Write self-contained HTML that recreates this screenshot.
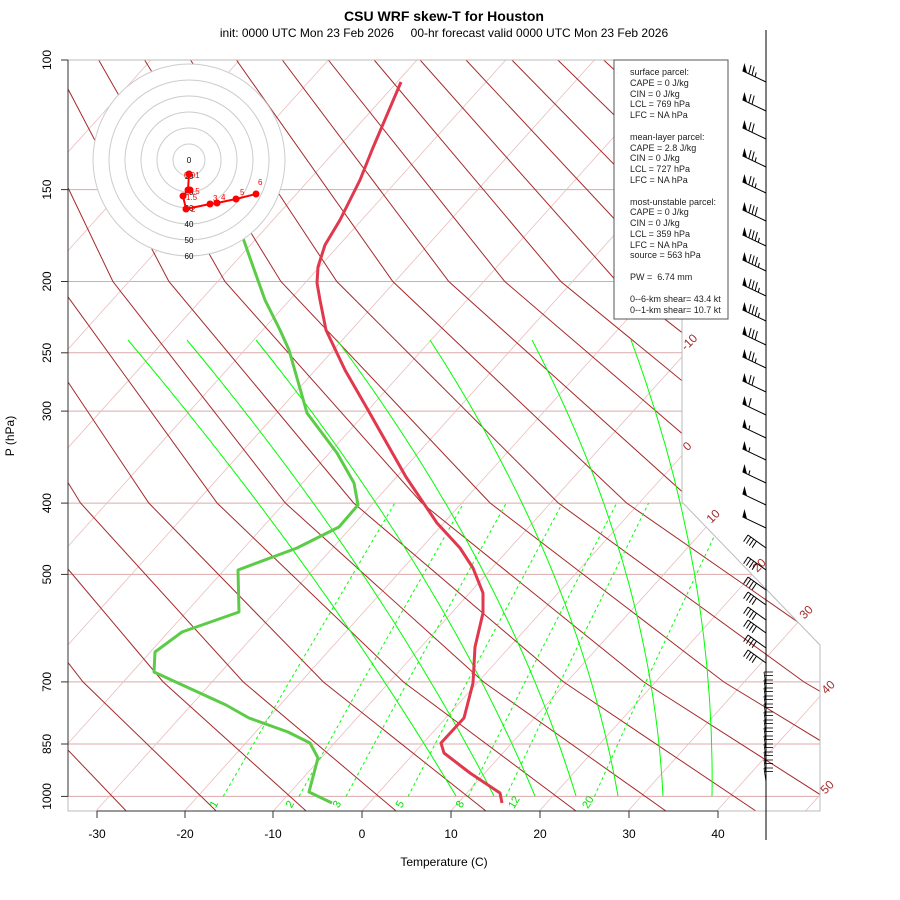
<!DOCTYPE html>
<html><head><meta charset="utf-8">
<style>
html,body{margin:0;padding:0;background:#fff;}
svg{display:block;font-family:"Liberation Sans",sans-serif;}
</style></head>
<body>
<svg width="900" height="900" viewBox="0 0 900 900" xmlns="http://www.w3.org/2000/svg" xmlns:xlink="http://www.w3.org/1999/xlink">
<defs>
<clipPath id="cp"><polygon points="68,60 682,60 682,502 820,645 820,811 68,811"/></clipPath>
<g id="bF"><line x1="0" y1="0" x2="-23.5" y2="-11.2"/><polygon points="-23.5,-11.2 -19,-9 -21.5,-19" stroke="none"/></g>
<g id="bF1"><use href="#bF"/><line x1="-17.2" y1="-8.2" x2="-14.9" y2="-16.9"/></g>
<g id="bF2"><use href="#bF1"/><line x1="-14" y1="-6.7" x2="-11.8" y2="-15.4"/></g>
<g id="bF3"><use href="#bF2"/><line x1="-10.9" y1="-5.2" x2="-8.6" y2="-13.9"/></g>
<g id="bFh"><use href="#bF"/><line x1="-17.2" y1="-8.2" x2="-16.1" y2="-12.6"/></g>
<g id="bF1h"><use href="#bF1"/><line x1="-14" y1="-6.7" x2="-12.9" y2="-11.1"/></g>
<g id="bF2h"><use href="#bF2"/><line x1="-10.9" y1="-5.2" x2="-9.8" y2="-9.6"/></g>
<g id="bF3h"><use href="#bF3"/><line x1="-7.7" y1="-3.7" x2="-6.6" y2="-8.1"/></g>
<g id="bL"><line x1="0" y1="0" x2="-18" y2="-13"/><line x1="-18" y1="-13" x2="-22.4" y2="-6.4"/><line x1="-15.2" y1="-11" x2="-19.6" y2="-4.4"/><line x1="-12.3" y1="-8.9" x2="-16.7" y2="-2.3"/><line x1="-9.5" y1="-6.9" x2="-13.9" y2="-0.3"/></g>
<g id="bS"><line x1="0" y1="0" x2="-2" y2="-14"/><line x1="-2" y1="-14" x2="7" y2="-14"/><line x1="-1.5" y1="-10.5" x2="7" y2="-10.5"/></g>
</defs>
<rect width="900" height="900" fill="#fff"/>
<g clip-path="url(#cp)">
<g stroke="#dcaaaa" stroke-width="1">
<line x1="68" y1="60" x2="830" y2="60"/><line x1="68" y1="189.6" x2="830" y2="189.6"/>
<line x1="68" y1="281.5" x2="830" y2="281.5"/><line x1="68" y1="352.8" x2="830" y2="352.8"/>
<line x1="68" y1="411.1" x2="830" y2="411.1"/><line x1="68" y1="503.1" x2="830" y2="503.1"/>
<line x1="68" y1="574.4" x2="830" y2="574.4"/><line x1="68" y1="681.9" x2="830" y2="681.9"/>
<line x1="68" y1="744" x2="830" y2="744"/><line x1="68" y1="796.4" x2="830" y2="796.4"/>
</g>
<g stroke="#ebbcbc" stroke-width="0.8">
<line x1="-968.5" y1="811" x2="-292.6" y2="60"/><line x1="-879.8" y1="811" x2="-203.9" y2="60"/>
<line x1="-791.1" y1="811" x2="-115.2" y2="60"/><line x1="-702.4" y1="811" x2="-26.5" y2="60"/>
<line x1="-613.7" y1="811" x2="62.2" y2="60"/><line x1="-525" y1="811" x2="150.9" y2="60"/>
<line x1="-436.3" y1="811" x2="239.6" y2="60"/><line x1="-347.6" y1="811" x2="328.3" y2="60"/>
<line x1="-258.9" y1="811" x2="417" y2="60"/><line x1="-170.2" y1="811" x2="505.7" y2="60"/>
<line x1="-81.5" y1="811" x2="594.4" y2="60"/><line x1="7.2" y1="811" x2="683.1" y2="60"/>
<line x1="95.9" y1="811" x2="771.8" y2="60"/><line x1="184.6" y1="811" x2="860.5" y2="60"/>
<line x1="273.3" y1="811" x2="949.2" y2="60"/><line x1="362" y1="811" x2="1037.9" y2="60"/>
<line x1="450.7" y1="811" x2="1126.6" y2="60"/><line x1="539.4" y1="811" x2="1215.3" y2="60"/>
<line x1="628.1" y1="811" x2="1304" y2="60"/><line x1="716.8" y1="811" x2="1392.7" y2="60"/>
<line x1="805.5" y1="811" x2="1481.4" y2="60"/>
</g>
<g stroke="#a52a2a" stroke-width="1" fill="none">
<polyline points="126.2,811 3,682 -124.2,503 -223,281.5 -268.6,60"/>
<polyline points="216.2,811 83.1,682 -56,503 -167,281.5 -222.7,60"/>
<polyline points="306.1,811 163.2,682 12.3,503 -111.1,281.5 -176.8,60"/>
<polyline points="396.1,811 243.3,682 80.5,503 -55.1,281.5 -130.9,60"/>
<polyline points="486,811 323.4,682 148.8,503 0.9,281.5 -85,60"/>
<polyline points="576,811 403.5,682 217.1,503 56.9,281.5 -39,60"/>
<polyline points="665.9,811 483.6,682 285.3,503 112.9,281.5 6.9,60"/>
<polyline points="755.9,811 563.7,682 353.6,503 168.9,281.5 52.8,60"/>
<polyline points="845.8,811 643.8,682 421.8,503 224.9,281.5 98.7,60"/>
<polyline points="935.8,811 723.9,682 490.1,503 280.9,281.5 144.6,60"/>
<polyline points="1025.7,811 804,682 558.3,503 336.8,281.5 190.5,60"/>
<polyline points="1115.7,811 884.1,682 626.6,503 392.8,281.5 236.4,60"/>
<polyline points="1205.6,811 964.2,682 694.8,503 448.8,281.5 282.3,60"/>
<polyline points="1295.6,811 1044.3,682 763.1,503 504.8,281.5 328.3,60"/>
<polyline points="1385.5,811 1124.4,682 831.3,503 560.8,281.5 374.2,60"/>
<polyline points="1475.5,811 1204.5,682 899.6,503 616.8,281.5 420.1,60"/>
<polyline points="1565.4,811 1284.6,682 967.9,503 672.8,281.5 466,60"/>
<polyline points="1655.4,811 1364.7,682 1036.1,503 728.7,281.5 511.9,60"/>
<polyline points="1745.3,811 1444.8,682 1104.3,503 784.7,281.5 557.8,60"/>
<polyline points="1835.3,811 1524.9,682 1172.6,503 840.7,281.5 603.7,60"/>
<polyline points="1925.2,811 1605,682 1240.8,503 896.7,281.5 649.6,60"/>
<polyline points="2015.2,811 1685.1,682 1309.1,503 952.6,281.5 695.6,60"/>
</g>
<g stroke="#00ff00" stroke-width="1" fill="none" stroke-dasharray="3,3">
<polyline points="223.2,796.4 289.3,681.9 394.8,503.1"/>
<polyline points="299,796.4 362.3,681.9 463.7,503.1"/>
<polyline points="346,796.4 407.5,681.9 506.2,503.1"/>
<polyline points="408.1,796.4 467.2,681.9 562.4,503.1"/>
<polyline points="468.3,796.4 525,681.9 616.7,503.1"/>
<polyline points="506,796.4 560.2,681.9 648.6,503.1"/>
<polyline points="594.4,796.4 645.8,681.9 729.8,503.1"/>
</g>
<g stroke="#00ff00" stroke-width="1" fill="none">
<path d="M128,340 Q320,568 456,796"/>
<path d="M187,340 Q376.5,568 494,796"/>
<path d="M256,340 Q439.5,568 535,796"/>
<path d="M337,340 Q506.5,568 576,796"/>
<path d="M430,340 Q578,568 618,796"/>
<path d="M532,340 Q651.5,568 663,796"/>
<path d="M631,340 Q715.5,568 712,796"/>
</g>
</g>
<polygon points="68,60 682,60 682,502 820,645 820,811 68,811" fill="none" stroke="#bbb" stroke-width="1"/>
<polyline points="401,82 372,150 360,180 352,196 340,220 325,245 318,267 317,283 320,300 326,330 345,370 368,410 406,477 437,523 460,548 473,568 483,593 483,613 475,647 473,683 464,718 441,743 444,753 470,773 500,793 502,803" fill="none" stroke="#e0384c" stroke-width="3" stroke-linejoin="round"/>
<polyline points="243,238 250,258 265,300 280,330 289,350 307,413 337,453 354,483 358,505 339,527 297,548 238,570 239,612 182,632 155,652 154,672 226,705 249,718 288,732 310,743 318,758 309,792 332,803" fill="none" stroke="#5ccc48" stroke-width="3" stroke-linejoin="round"/>
<g stroke="#333" stroke-width="1">
<line x1="68" y1="60" x2="68" y2="796.4"/>
<line x1="97" y1="811" x2="718" y2="811"/>
<line x1="61" y1="60" x2="68" y2="60"/><line x1="61" y1="189.6" x2="68" y2="189.6"/>
<line x1="61" y1="281.5" x2="68" y2="281.5"/><line x1="61" y1="352.8" x2="68" y2="352.8"/>
<line x1="61" y1="411.1" x2="68" y2="411.1"/><line x1="61" y1="503.1" x2="68" y2="503.1"/>
<line x1="61" y1="574.4" x2="68" y2="574.4"/><line x1="61" y1="681.9" x2="68" y2="681.9"/>
<line x1="61" y1="744" x2="68" y2="744"/><line x1="61" y1="796.4" x2="68" y2="796.4"/>
<line x1="97" y1="811" x2="97" y2="818"/><line x1="185" y1="811" x2="185" y2="818"/>
<line x1="273" y1="811" x2="273" y2="818"/><line x1="362" y1="811" x2="362" y2="818"/>
<line x1="451" y1="811" x2="451" y2="818"/><line x1="540" y1="811" x2="540" y2="818"/>
<line x1="629" y1="811" x2="629" y2="818"/><line x1="718" y1="811" x2="718" y2="818"/>
</g>
<g font-size="12" text-anchor="middle">
<text transform="translate(51,60) rotate(-90)">100</text>
<text transform="translate(51,189.6) rotate(-90)">150</text>
<text transform="translate(51,281.5) rotate(-90)">200</text>
<text transform="translate(51,352.8) rotate(-90)">250</text>
<text transform="translate(51,411.1) rotate(-90)">300</text>
<text transform="translate(51,503.1) rotate(-90)">400</text>
<text transform="translate(51,574.4) rotate(-90)">500</text>
<text transform="translate(51,681.9) rotate(-90)">700</text>
<text transform="translate(51,744) rotate(-90)">850</text>
<text transform="translate(51,796.4) rotate(-90)">1000</text>
</g>
<text x="444" y="21" font-size="14" font-weight="bold" text-anchor="middle">CSU WRF skew-T for Houston</text>
<text x="444" y="37" font-size="12" text-anchor="middle" xml:space="preserve">init: 0000 UTC Mon 23 Feb 2026     00-hr forecast valid 0000 UTC Mon 23 Feb 2026</text>
<text x="444" y="866" font-size="12" text-anchor="middle">Temperature (C)</text>
<text transform="translate(14,436) rotate(-90)" font-size="12" text-anchor="middle">P (hPa)</text>
<g font-size="12" text-anchor="middle">
<text x="97" y="838">-30</text><text x="185" y="838">-20</text><text x="273" y="838">-10</text>
<text x="362" y="838">0</text><text x="451" y="838">10</text><text x="540" y="838">20</text>
<text x="629" y="838">30</text><text x="718" y="838">40</text>
</g>
<g font-size="12" fill="#a52a2a" text-anchor="middle">
<text transform="translate(692,345) rotate(-45)">-10</text>
<text transform="translate(690,449) rotate(-45)">0</text>
<text transform="translate(716,519) rotate(-45)">10</text>
<text transform="translate(762,568) rotate(-45)">20</text>
<text transform="translate(809,615) rotate(-45)">30</text>
<text transform="translate(831,690) rotate(-45)">40</text>
<text transform="translate(830,790) rotate(-45)">50</text>
</g>
<g font-size="11" fill="#00e000" text-anchor="middle">
<text transform="translate(217,806) rotate(-60)">1</text>
<text transform="translate(293,806) rotate(-60)">2</text>
<text transform="translate(340,806) rotate(-60)">3</text>
<text transform="translate(403,806) rotate(-60)">5</text>
<text transform="translate(463,806) rotate(-60)">8</text>
<text transform="translate(517,804) rotate(-60)">12</text>
<text transform="translate(591,804) rotate(-60)">20</text>
</g>
<circle cx="189" cy="160" r="96" fill="#fff" stroke="#ccc"/>
<circle cx="189" cy="160" r="80" fill="none" stroke="#ccc"/>
<circle cx="189" cy="160" r="64" fill="none" stroke="#ccc"/>
<circle cx="189" cy="160" r="48" fill="none" stroke="#ccc"/>
<circle cx="189" cy="160" r="32" fill="none" stroke="#ccc"/>
<circle cx="189" cy="160" r="16" fill="none" stroke="#ccc"/>
<g font-size="8" text-anchor="middle" fill="#000">
<text x="189" y="163">0</text><text x="189" y="179">10</text><text x="189" y="195">20</text>
<text x="189" y="211">30</text><text x="189" y="227">40</text><text x="189" y="243">50</text><text x="189" y="259">60</text>
</g>
<polyline points="189,174 188,190 183,196 186,209 210,204 217,203 236,199 256,194" fill="none" stroke="#f00" stroke-width="2"/>
<g fill="#f00">
<circle cx="189" cy="174" r="3.5"/><circle cx="188" cy="190" r="3.5"/><circle cx="190" cy="190" r="3.5"/><circle cx="183" cy="196" r="3.5"/>
<circle cx="186" cy="209" r="3.5"/><circle cx="210" cy="204" r="3.5"/><circle cx="217" cy="203" r="3.5"/>
<circle cx="236" cy="199" r="3.5"/><circle cx="256" cy="194" r="3.5"/>
</g>
<g font-size="8" fill="#f00">
<text x="184" y="178">0.01</text><text x="193" y="194">.5</text><text x="186" y="200">1.5</text>
<text x="191" y="212">2</text><text x="213" y="201">3</text><text x="221" y="200">4</text>
<text x="240" y="195">5</text><text x="258" y="185">6</text>
</g>
<rect x="614" y="60" width="114" height="259" fill="#fff" stroke="#555"/>
<g font-size="9" fill="#222">
<text x="630" y="75">surface parcel:</text>
<text x="630" y="86">CAPE = 0 J/kg</text>
<text x="630" y="97">CIN = 0 J/kg</text>
<text x="630" y="107">LCL = 769 hPa</text>
<text x="630" y="118">LFC = NA hPa</text>
<text x="630" y="140">mean-layer parcel:</text>
<text x="630" y="151">CAPE = 2.8 J/kg</text>
<text x="630" y="161">CIN = 0 J/kg</text>
<text x="630" y="172">LCL = 727 hPa</text>
<text x="630" y="183">LFC = NA hPa</text>
<text x="630" y="205">most-unstable parcel:</text>
<text x="630" y="215">CAPE = 0 J/kg</text>
<text x="630" y="226">CIN = 0 J/kg</text>
<text x="630" y="237">LCL = 359 hPa</text>
<text x="630" y="248">LFC = NA hPa</text>
<text x="630" y="258">source = 563 hPa</text>
<text x="630" y="280" xml:space="preserve">PW =  6.74 mm</text>
<text x="630" y="302">0--6-km shear= 43.4 kt</text>
<text x="630" y="313">0--1-km shear= 10.7 kt</text>
</g>
<line x1="766" y1="30" x2="766" y2="840" stroke="#000" stroke-width="1"/>
<g stroke="#000" fill="#000" stroke-width="1">
<use href="#bF2h" x="766" y="82"/><use href="#bF2" x="766" y="111"/><use href="#bF2" x="766" y="139"/>
<use href="#bF2h" x="766" y="167"/><use href="#bF2h" x="766" y="193"/><use href="#bF3" x="766" y="221"/>
<use href="#bF3h" x="766" y="246"/><use href="#bF3h" x="766" y="271"/><use href="#bF3h" x="766" y="296"/>
<use href="#bF3h" x="766" y="321"/><use href="#bF3" x="766" y="345"/><use href="#bF2h" x="766" y="368"/>
<use href="#bF2" x="766" y="392"/><use href="#bF1" x="766" y="415"/><use href="#bFh" x="766" y="438"/>
<use href="#bFh" x="766" y="460"/><use href="#bFh" x="766" y="483"/><use href="#bF" x="766" y="505"/>
<use href="#bF" x="766" y="528"/>
<use href="#bL" x="766" y="548"/><use href="#bL" x="766" y="570"/><use href="#bL" x="766" y="590"/>
<use href="#bL" x="766" y="605"/><use href="#bL" x="766" y="620"/><use href="#bL" x="766" y="633"/>
<use href="#bL" x="766" y="648"/><use href="#bL" x="766" y="663"/>
</g>
<g stroke="#000" fill="none" stroke-width="0.8">
<use href="#bS" x="766" y="686"/><use href="#bS" x="766" y="694"/><use href="#bS" x="766" y="702"/>
<use href="#bS" x="766" y="710"/><use href="#bS" x="766" y="718"/><use href="#bS" x="766" y="726"/>
<use href="#bS" x="766" y="734"/><use href="#bS" x="766" y="742"/><use href="#bS" x="766" y="750"/>
<use href="#bS" x="766" y="758"/><use href="#bS" x="766" y="766"/><use href="#bS" x="766" y="774"/>
<use href="#bS" x="766" y="782"/>
</g>
</svg>
</body></html>
